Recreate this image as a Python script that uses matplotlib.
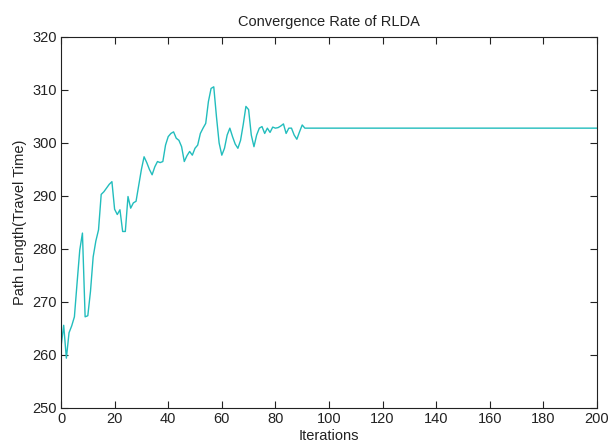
import matplotlib
matplotlib.use("Agg")
import matplotlib.pyplot as plt

plt.rcParams['font.family'] = ['Liberation Sans', 'DejaVu Sans']

iterations = list(range(0, 92)) + [200]
path_length = [
    261.5, 265.6, 259.4, 264.2, 265.5, 267.2, 273.6, 279.8, 283.0, 267.2,
    267.4, 272.0, 278.5, 281.5, 283.6, 290.3, 290.8, 291.5, 292.2, 292.7,
    287.5, 286.5, 287.4, 283.3, 283.3, 289.9, 287.7, 288.7, 289.0, 292.0,
    295.0, 297.4, 296.3, 295.0, 294.0, 295.5, 296.5, 296.3, 296.5, 299.6,
    301.2, 301.8, 302.1, 300.9, 300.5, 299.3, 296.5, 297.6, 298.4, 297.7,
    299.0, 299.6, 301.8, 302.8, 303.7, 307.8, 310.3, 310.6, 305.0, 300.0,
    297.7, 299.0, 301.5, 302.8, 301.2, 299.8, 299.0, 300.5, 303.5, 306.9,
    306.3, 301.5, 299.3, 301.5, 302.8, 303.1, 301.8, 302.8, 302.0, 303.0,
    302.8, 302.9, 303.2, 303.6, 301.8, 302.8, 302.8, 301.5, 300.7, 302.1,
    303.4, 302.8, 302.8,
]
x_ticks = list(range(0, 201, 20))
y_ticks = list(range(250, 321, 10))

fig = plt.figure(figsize=(6.10, 4.42), dpi=100)
ax = fig.add_axes([0.1, 0.077, 0.8787, 0.8393])
ax.plot(iterations, path_length, color='#22bdbd', linewidth=1.0)
ax.set_xlim(0, 200)
ax.set_ylim(250, 320)
ax.set_xticks(x_ticks)
ax.set_yticks(y_ticks)
ax.tick_params(direction='in', top=True, right=True, length=5, width=0.8,
               labelsize=10.5, colors='#222222', pad=3)
for s in ax.spines.values():
    s.set_linewidth(0.8)
    s.set_color('#222222')
ax.set_title('Convergence Rate of RLDA', fontsize=10.5, pad=8, color='#222222')
ax.set_xlabel('Iterations', fontsize=10.5, labelpad=2, color='#222222')
ax.set_ylabel('Path Length(Travel Time)', fontsize=10.5, labelpad=4, color='#222222')

fig.savefig('out.png', dpi=100)
